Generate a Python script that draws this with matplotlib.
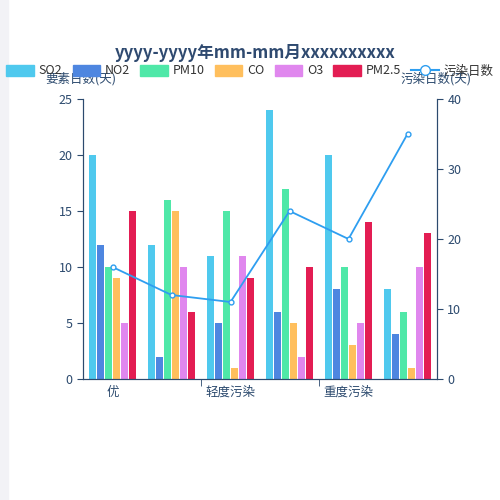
import numpy as np
import matplotlib.pyplot as plt
from matplotlib.lines import Line2D
from matplotlib.patches import Patch

plt.rcParams['font.family'] = ['Noto Sans CJK SC', 'DejaVu Sans']

categories = ["优", "良", "轻度污染", "中度污染", "重度污染", "严重污染"]
series_names = ["SO2", "NO2", "PM10", "CO", "O3", "PM2.5"]
so2 = [20, 12, 11, 24, 20, 8]
no2 = [12, 2, 5, 6, 8, 4]
pm10 = [10, 16, 15, 17, 10, 6]
co = [9, 15, 1, 5, 3, 1]
o3 = [5, 10, 11, 2, 5, 10]
pm25 = [15, 6, 9, 10, 14, 13]
pollution_days = [16, 12, 11, 24, 20, 35]
colors = ["#4fc9ee", "#4e86e0", "#4fe8a8", "#ffbf5d", "#e087ee", "#e31d53"]
line_color = "#2e9ef0"
axis_color = "#2c4a6e"

fig = plt.figure(figsize=(5, 5), dpi=100)
fig.patches.append(plt.Rectangle((0, 0), 0.016, 1, transform=fig.transFigure,
                                 color="#f2f2f6", zorder=-1))
ax = fig.add_axes([0.166, 0.242, 0.708, 0.56])
ax2 = ax.twinx()

x = np.arange(len(categories))
data = [so2, no2, pm10, co, o3, pm25]
bw = 0.135
for i, vals in enumerate(data):
    ax.bar(x + (i - 2.5) * bw, vals, bw * 0.95, color=colors[i], zorder=2)
ax2.plot(x, pollution_days, color=line_color, lw=1.3, marker="o", ms=3.5,
         mfc="white", mec=line_color, zorder=3)

ax.set_xlim(-0.5, 5.5)
ax.set_ylim(0, 25)
ax2.set_ylim(0, 40)
ax.set_yticks(range(0, 26, 5))
ax2.set_yticks(range(0, 41, 10))
ax.set_xticks([0, 2, 4])
ax.set_xticklabels([categories[0], categories[2], categories[4]])
ax.set_xticks([1.5, 3.5], minor=True)
ax.tick_params(axis="x", which="major", length=0, labelsize=9, colors=axis_color, pad=5)
ax.tick_params(axis="x", which="minor", length=5, color=axis_color)
for a in (ax, ax2):
    a.tick_params(axis="y", labelsize=9, colors=axis_color, length=4, color=axis_color)
    for s in a.spines.values():
        s.set_visible(False)
    a.spines["left"].set_visible(True)
    a.spines["right"].set_visible(True)
    a.spines["bottom"].set_visible(True)
    a.spines["left"].set_color(axis_color)
    a.spines["right"].set_color(axis_color)
    a.spines["bottom"].set_color(axis_color)

fig.text(0.51, 0.895, "yyyy-yyyy年mm-mm月xxxxxxxxxx", ha="center", va="center",
         fontsize=12, fontweight="bold", color="#2f4a70")
fig.text(0.09, 0.843, "要素日数(天)", fontsize=9, color=axis_color, va="center")
fig.text(0.80, 0.843, "污染日数(天)", fontsize=9, color=axis_color, va="center")

handles = [Patch(color=c, label=n) for c, n in zip(colors, series_names)]
handles.append(Line2D([], [], color=line_color, marker="o", mfc="white",
                      mec=line_color, ms=7, lw=1.5, label="污染日数"))
fig.legend(handles=handles, loc="center", bbox_to_anchor=(0.5, 0.858), ncol=7,
           frameon=False, fontsize=9, handlelength=2.2, handleheight=1.0,
           columnspacing=0.8, handletextpad=0.4, labelcolor="#333333")

fig.savefig("out.png", dpi=100)
